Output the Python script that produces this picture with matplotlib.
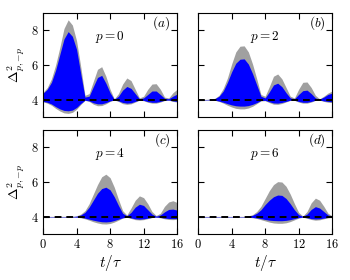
import numpy as np
import matplotlib
matplotlib.use('Agg')
import matplotlib.pyplot as plt

plt.rcParams.update({
    'font.family': 'serif',
    'font.serif': ['cmr10'],
    'mathtext.fontset': 'cm',
    'axes.formatter.use_mathtext': True,
    'font.size': 9,
    'axes.linewidth': 0.8,
})

###########################
# Data
###########################

t = np.arange(0, 16.5, 0.5)

# panel (a), p = 0
a_gray_hi = [4.42, 4.7, 5.2, 6.0, 7.0, 8.1, 8.6, 8.3, 7.4, 5.9, 4.25, 4.35, 5.05, 5.75, 5.9, 5.35, 4.6,
             4.05, 4.35, 4.9, 5.25, 5.1, 4.6, 4.1, 4.2, 4.6, 4.9, 4.92, 4.6, 4.15, 4.1, 4.4, 4.6]
a_blue_hi = [4.37, 4.6, 5.0, 5.7, 6.6, 7.5, 7.92, 7.65, 6.9, 5.5, 4.15, 4.2, 4.75, 5.28, 5.4, 4.95, 4.4,
             4.02, 4.2, 4.55, 4.76, 4.65, 4.35, 4.05, 4.1, 4.3, 4.5, 4.5, 4.3, 4.08, 4.05, 4.2, 4.32]
a_blue_lo = [3.9, 3.85, 3.75, 3.6, 3.47, 3.38, 3.36, 3.4, 3.55, 3.78, 3.97, 3.93, 3.82, 3.76, 3.76, 3.83, 3.93,
             3.99, 3.93, 3.84, 3.8, 3.82, 3.9, 3.98, 3.96, 3.89, 3.85, 3.85, 3.9, 3.97, 3.98, 3.93, 3.9]
a_gray_lo = [3.88, 3.8, 3.68, 3.5, 3.35, 3.24, 3.21, 3.27, 3.45, 3.72, 3.96, 3.9, 3.74, 3.65, 3.66, 3.76, 3.9,
             3.98, 3.9, 3.77, 3.73, 3.76, 3.86, 3.97, 3.94, 3.85, 3.8, 3.8, 3.86, 3.95, 3.97, 3.9, 3.86]

# panel (b), p = 2
b_gray_hi = [4.02, 4.02, 4.02, 4.03, 4.08, 4.25, 4.65, 5.25, 6.05, 6.75, 7.08, 7.1, 6.75, 6.05, 5.2, 4.3, 4.2,
             4.75, 5.35, 5.48, 5.2, 4.7, 4.2, 4.1, 4.6, 5.0, 5.02, 4.7, 4.25, 4.05, 4.2, 4.38, 4.5]
b_blue_hi = [4.01, 4.01, 4.01, 4.02, 4.06, 4.2, 4.5, 5.0, 5.6, 6.1, 6.33, 6.35, 6.05, 5.5, 4.85, 4.2, 4.1,
             4.45, 4.85, 4.95, 4.75, 4.4, 4.1, 4.05, 4.3, 4.52, 4.55, 4.35, 4.1, 4.03, 4.15, 4.3, 4.38]
b_blue_lo = [3.99, 3.99, 3.99, 3.99, 3.97, 3.92, 3.85, 3.77, 3.7, 3.65, 3.63, 3.63, 3.66, 3.73, 3.83, 3.95, 3.96,
             3.88, 3.81, 3.8, 3.84, 3.9, 3.97, 3.97, 3.9, 3.85, 3.85, 3.9, 3.97, 3.98, 3.93, 3.9, 3.88]
b_gray_lo = [3.98, 3.98, 3.98, 3.98, 3.96, 3.9, 3.8, 3.68, 3.58, 3.5, 3.47, 3.47, 3.52, 3.62, 3.77, 3.93, 3.94,
             3.83, 3.74, 3.73, 3.78, 3.87, 3.96, 3.96, 3.86, 3.8, 3.8, 3.86, 3.96, 3.97, 3.9, 3.85, 3.83]

# panel (c), p = 4
c_gray_hi = [4.02, 4.02, 4.02, 4.02, 4.02, 4.02, 4.02, 4.02, 4.05, 4.15, 4.35, 4.75, 5.3, 5.85, 6.3, 6.45, 6.25,
             5.7, 5.0, 4.35, 4.1, 4.5, 4.95, 5.2, 5.1, 4.75, 4.3, 4.07, 4.2, 4.6, 4.85, 4.92, 4.82]
c_blue_hi = [4.01, 4.01, 4.01, 4.01, 4.01, 4.01, 4.01, 4.01, 4.03, 4.1, 4.25, 4.55, 4.95, 5.35, 5.62, 5.7, 5.55,
             5.15, 4.65, 4.2, 4.05, 4.25, 4.55, 4.72, 4.65, 4.4, 4.15, 4.03, 4.1, 4.28, 4.42, 4.44, 4.38]
c_blue_lo = [3.99, 3.99, 3.99, 3.99, 3.99, 3.99, 3.99, 3.99, 3.98, 3.96, 3.92, 3.86, 3.8, 3.75, 3.71, 3.7, 3.72,
             3.78, 3.86, 3.94, 3.98, 3.93, 3.88, 3.86, 3.88, 3.92, 3.96, 3.98, 3.96, 3.92, 3.9, 3.89, 3.9]
c_gray_lo = [3.98, 3.98, 3.98, 3.98, 3.98, 3.98, 3.98, 3.98, 3.97, 3.94, 3.88, 3.8, 3.71, 3.64, 3.59, 3.58, 3.61,
             3.69, 3.8, 3.92, 3.97, 3.9, 3.83, 3.81, 3.83, 3.89, 3.95, 3.97, 3.94, 3.88, 3.84, 3.83, 3.85]

# panel (d), p = 6
d_gray_hi = [4.02, 4.02, 4.02, 4.02, 4.02, 4.02, 4.02, 4.02, 4.02, 4.02, 4.02, 4.02, 4.05, 4.12, 4.3, 4.6, 5.05,
             5.5, 5.85, 6.02, 6.0, 5.75, 5.3, 4.75, 4.25, 4.04, 4.3, 4.8, 5.07, 4.95, 4.6, 4.2, 4.05]
d_blue_hi = [4.01, 4.01, 4.01, 4.01, 4.01, 4.01, 4.01, 4.01, 4.01, 4.01, 4.01, 4.01, 4.03, 4.08, 4.2, 4.4, 4.7,
             4.95, 5.15, 5.25, 5.23, 5.05, 4.75, 4.4, 4.12, 4.02, 4.15, 4.42, 4.58, 4.5, 4.3, 4.1, 4.03]
d_blue_lo = [3.99, 3.99, 3.99, 3.99, 3.99, 3.99, 3.99, 3.99, 3.99, 3.99, 3.99, 3.99, 3.98, 3.96, 3.93, 3.89, 3.84,
             3.8, 3.78, 3.77, 3.77, 3.79, 3.83, 3.89, 3.95, 3.98, 3.94, 3.89, 3.87, 3.88, 3.92, 3.96, 3.98]
d_gray_lo = [3.98, 3.98, 3.98, 3.98, 3.98, 3.98, 3.98, 3.98, 3.98, 3.98, 3.98, 3.98, 3.97, 3.94, 3.9, 3.83, 3.76,
             3.69, 3.64, 3.62, 3.62, 3.65, 3.72, 3.82, 3.92, 3.97, 3.91, 3.84, 3.8, 3.82, 3.88, 3.94, 3.97]

baseline = 4.0
p_values = [0, 2, 4, 6]
panel_tags = ['(a)', '(b)', '(c)', '(d)']
x_ticks = [0, 4, 8, 12, 16]
y_ticks = [4, 6, 8]

panels = [
    (a_gray_hi, a_blue_hi, a_blue_lo, a_gray_lo),
    (b_gray_hi, b_blue_hi, b_blue_lo, b_gray_lo),
    (c_gray_hi, c_blue_hi, c_blue_lo, c_gray_lo),
    (d_gray_hi, d_blue_hi, d_blue_lo, d_gray_lo),
]

###########################
# Plot
###########################

fig = plt.figure(figsize=(3.5, 2.8), dpi=100)
ax_pos = [
    [0.123, 0.582, 0.383, 0.372],
    [0.566, 0.582, 0.383, 0.372],
    [0.123, 0.164, 0.383, 0.372],
    [0.566, 0.164, 0.383, 0.372],
]

for i, (g_hi, b_hi, b_lo, g_lo) in enumerate(panels):
    ax = fig.add_axes(ax_pos[i])
    ax.fill_between(t, g_lo, g_hi, color='#a0a0a0', linewidth=0)
    ax.fill_between(t, b_lo, b_hi, color='#0000ff', linewidth=0)
    ax.axhline(baseline, color='k', linestyle=(0, (3.5, 2.5)), linewidth=1.4)

    ax.set_xlim(0, 16)
    ax.set_ylim(3, 9)
    ax.set_xticks(x_ticks)
    ax.set_yticks(y_ticks)
    ax.tick_params(direction='in', top=True, right=True, length=4, width=0.8, labelsize=9, pad=3)

    if i < 2:
        ax.set_xticklabels([])
    else:
        ax.set_xlabel(r'$t/\tau$', fontsize=11, labelpad=1)
    if i % 2 == 1:
        ax.set_yticklabels([])
    else:
        ax.set_ylabel(r'$\Delta^2_{p,{-}p}$', fontsize=10, labelpad=3)

    ax.text(0.5, 0.77, rf'$p={p_values[i]}$', transform=ax.transAxes, ha='center', va='center', fontsize=9.5)
    ax.text(0.95, 0.9, rf'${panel_tags[i]}$', transform=ax.transAxes, ha='right', va='center', fontsize=9.5)

plt.savefig('out.png', dpi=100)
